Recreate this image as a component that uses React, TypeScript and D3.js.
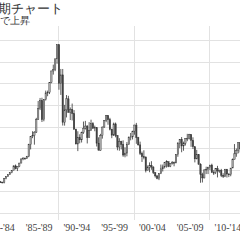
import React from "react";
import * as d3 from "d3";

// Nikkei 225 quarterly candles (approx.), 1980Q1 - 2014Q4
const startYear = 1980;
const opens = [
  6569, 6620, 6820, 7050, 7116, 7200, 7530, 7440, 7681, 7200, 7150, 7000,
  8016, 8450, 8850, 9300, 9893, 10900, 10300, 10700, 11542, 12500, 12700, 12600,
  13113, 15860, 17650, 17900, 18701, 21566, 24176, 26010, 21564, 26260, 27769, 27924,
  30159, 32839, 33183, 35637, 38915, 29980, 31940, 20983, 23848, 26400, 23290, 23916,
  22983, 19345, 15951, 17399, 16924, 18591, 19590, 20106, 17417, 19112, 20644, 19564,
  19723, 16140, 14517, 17913, 19868, 21407, 22530, 21556, 19361, 18003, 20605, 17888,
  15258, 16527, 15830, 13406, 13842, 15836, 17530, 17605, 18934, 20337, 17411, 15747,
  13785, 12999, 12969, 9774, 10542, 11024, 10621, 9383, 8578, 7973, 9083, 10219,
  10676, 11715, 11858, 10823, 11488, 11668, 11584, 13574, 16111, 17059, 15505, 16127,
  17225, 17287, 18138, 16785, 15307, 12525, 13481, 11259, 8859, 8109, 9958, 10133,
  10546, 11089, 9382, 9369, 10228, 9755, 9816, 8700, 8455, 10083, 9006, 8870,
  10395, 12397, 13677, 14455, 16291, 14827, 15162, 16173,
];
const highs = [
  6800, 6900, 7200, 7190, 7300, 7700, 8020, 7700, 7800, 7400, 7200, 8100,
  8500, 8900, 9400, 9900, 11000, 11200, 10800, 11600, 12600, 12900, 12800, 13200,
  16000, 17700, 18900, 18900, 22000, 25900, 26600, 26650, 26300, 28300, 28300, 30200,
  32900, 34300, 35700, 38957, 38950, 33300, 33300, 25000, 27270, 27100, 24400, 25300,
  23800, 19500, 18900, 18200, 18800, 21148, 21300, 20300, 21000, 21573, 21000, 20200,
  19800, 17500, 18300, 20000, 21500, 22666, 22600, 22000, 19500, 20900, 20910, 18000,
  17300, 16700, 16800, 15200, 16400, 17700, 18500, 19000, 20400, 20833, 17600, 16500,
  14200, 14500, 13000, 11000, 11700, 11979, 10800, 9300, 8800, 9200, 11200, 11200,
  11800, 12195, 11900, 11500, 12000, 11900, 13600, 16400, 17100, 17563, 16500, 17300,
  18300, 18297, 18200, 17500, 15300, 14600, 13600, 11500, 9300, 10100, 10700, 10700,
  11100, 11400, 9900, 10300, 10900, 10000, 10200, 9200, 10200, 10200, 9200, 10400,
  12600, 15942, 14900, 16300, 16300, 15400, 16400, 18030,
];
const lows = [
  6480, 6550, 6800, 6900, 7050, 7150, 7200, 7200, 7100, 7000, 6850, 6850,
  7800, 8350, 8800, 9200, 9900, 10100, 9700, 10600, 11500, 12200, 12300, 12500,
  12900, 14700, 17300, 15800, 18500, 21500, 23800, 21036, 21200, 26000, 27000, 27500,
  30000, 32000, 32800, 34500, 28500, 27300, 20222, 20200, 22100, 23200, 21500, 21400,
  19300, 15900, 14309, 16100, 16300, 18300, 19300, 16078, 17400, 19000, 19500, 18900,
  15380, 14485, 14400, 17200, 19700, 21000, 20400, 19100, 17300, 17800, 17500, 14500,
  14400, 14700, 13000, 12879, 13100, 15800, 16800, 17000, 18100, 16000, 15600, 13400,
  11800, 12400, 9382, 9900, 9420, 10000, 9000, 8200, 7800, 7607, 9000, 9600,
  10300, 10500, 10600, 10600, 11200, 10800, 11500, 13000, 15000, 14045, 14400, 15600,
  16600, 17000, 15300, 14800, 11700, 12400, 11200, 6994, 7054, 8000, 9000, 9000,
  9900, 9300, 8800, 9000, 8227, 9300, 8300, 8100, 8300, 8200, 8300, 8500,
  10400, 12400, 13000, 13800, 14000, 13900, 14700, 14500,
];
const closes = [
  6620, 6820, 7050, 7116, 7200, 7530, 7440, 7681, 7200, 7150, 7000, 8016,
  8450, 8850, 9300, 9893, 10900, 10300, 10700, 11542, 12500, 12700, 12600, 13113,
  15860, 17650, 17900, 18701, 21566, 24176, 26010, 21564, 26260, 27769, 27924, 30159,
  32839, 33183, 35637, 38915, 29980, 31940, 20983, 23848, 26400, 23290, 23916, 22983,
  19345, 15951, 17399, 16924, 18591, 19590, 20106, 17417, 19112, 20644, 19564, 19723,
  16140, 14517, 17913, 19868, 21407, 22530, 21556, 19361, 18003, 20605, 17888, 15258,
  16527, 15830, 13406, 13842, 15836, 17530, 17605, 18934, 20337, 17411, 15747, 13785,
  12999, 12969, 9774, 10542, 11024, 10621, 9383, 8578, 7973, 9083, 10219, 10676,
  11715, 11858, 10823, 11488, 11668, 11584, 13574, 16111, 17059, 15505, 16127, 17225,
  17287, 18138, 16785, 15307, 12525, 13481, 11259, 8859, 8109, 9958, 10133, 10546,
  11089, 9382, 9369, 10228, 9755, 9816, 8700, 8455, 10083, 9006, 8870, 10395,
  12397, 13677, 14455, 16291, 14827, 15162, 16173, 17450,
];

const gridValues = [0, 5000, 10000, 15000, 20000, 25000, 30000, 35000, 40000];
const gridYears = [1980, 1990, 2000, 2010];
const periodLabels = ["'80-'84", "'85-'89", "'90-'94", "'95-'99", "'00-'04", "'05-'09", "'10-'14"];
const periodCenters = [1982.5, 1987.5, 1992.5, 1997.5, 2002.5, 2007.5, 2012.5];

const title = "日経平均 長期チャート";
const subtitle = "アベノミクスで上昇";

export default function App() {
  const x = d3.scaleLinear().domain([1990, 2010]).range([58, 209]);
  const y = d3.scaleLinear().domain([0, 40000]).range([213, 40]);
  const bw = 1.4;
  const plotTop = 26;
  const plotBottom = 220;

  const candles = opens.map((o, i) => {
    const t = startYear + i / 4 + 0.125;
    return { t, o, h: highs[i], l: lows[i], c: closes[i] };
  });

  return (
    <svg
      width={240}
      height={240}
      style={{ position: "absolute", left: 0, top: 0, background: "#fff" }}
    >
      <rect x={0} y={0} width={240} height={240} fill="#fff" />
      {gridValues.map((v) => (
        <line key={"h" + v} x1={0} x2={240} y1={Math.round(y(v)) + 0.5} y2={Math.round(y(v)) + 0.5} stroke="#e2e2e2" strokeWidth={1} />
      ))}
      {gridYears.map((yr) => (
        <line key={"v" + yr} x1={Math.round(x(yr)) + 0.5} x2={Math.round(x(yr)) + 0.5} y1={plotTop} y2={plotBottom} stroke="#e2e2e2" strokeWidth={1} />
      ))}
      {candles.map((d, i) => {
        const cx = x(d.t);
        const up = d.c >= d.o;
        const top = y(Math.max(d.o, d.c));
        const bot = y(Math.min(d.o, d.c));
        return (
          <g key={i}>
            <line x1={cx} x2={cx} y1={y(d.h)} y2={y(d.l)} stroke="#333" strokeWidth={0.8} />
            <rect
              x={cx - bw / 2}
              y={top}
              width={bw}
              height={Math.max(0.8, bot - top)}
              fill={up ? "#aaa" : "#444"}
              stroke="#333"
              strokeWidth={0.4}
            />
          </g>
        );
      })}
      {periodLabels.map((lab, i) => (
        <text key={lab} x={x(periodCenters[i])} y={231} textAnchor="middle" fontSize={10} fontFamily="serif" fill="#444">
          {lab}
        </text>
      ))}
      <text x={63} y={13} textAnchor="end" fontSize={13} fill="#333">{title}</text>
      <text x={30} y={24} textAnchor="end" fontSize={10} fill="#333">{subtitle}</text>
    </svg>
  );
}
